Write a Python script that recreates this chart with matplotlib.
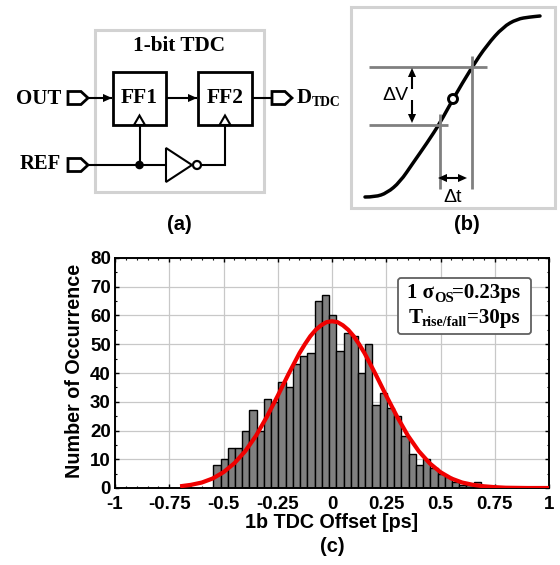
# -*- coding: utf-8 -*-
import numpy as np
import matplotlib
matplotlib.use("Agg")
import matplotlib.pyplot as plt
from matplotlib.patches import Rectangle, Polygon, Circle, FancyBboxPatch, PathPatch
from matplotlib.path import Path
from matplotlib.ticker import MultipleLocator, FixedLocator

# histogram of the 1b TDC offset
bin_first = -0.547
bin_width = 1 / 30
counts = [8, 10, 14, 14, 20, 27, 20, 31, 30, 37, 35, 43, 46, 47, 65, 67,
          60, 47.5, 54, 53, 40, 50, 29, 33, 28, 25, 18, 12, 8, 10, 7, 5, 4, 2, 1, 1, 2]

# red fit
fit_x = [-0.7, -0.65, -0.6, -0.55, -0.5, -0.45, -0.4, -0.35, -0.3, -0.25, -0.2, -0.175, -0.15, -0.125, -0.1, -0.075, -0.05, -0.025,
         0, 0.025, 0.05, 0.075, 0.1, 0.125, 0.15, 0.175, 0.2, 0.25, 0.3, 0.35, 0.4, 0.45, 0.5, 0.55, 0.6, 0.65, 0.7, 0.75, 0.8, 0.9, 1.0]
fit_y = [0.6, 1.1, 1.9, 3.3, 5.5, 8.6, 12.8, 18.2, 24.8, 32.1, 39.7, 43.3, 46.9, 50, 52.8, 55, 56.6, 57.7,
         58, 57.7, 56.6, 55, 52.8, 50, 46.9, 43.3, 39.7, 32.1, 24.8, 18.2, 12.8, 8.6, 5.5, 3.3, 1.9, 1.1, 0.6, 0.3, 0.1, 0, 0]

x_ticks = [-1, -0.75, -0.5, -0.25, 0, 0.25, 0.5, 0.75, 1]
x_labels = ["-1", "-0.75", "-0.5", "-0.25", "0", "0.25", "0.5", "0.75", "1"]
y_ticks = [0, 10, 20, 30, 40, 50, 60, 70, 80]

# sigmoid in panel (b), pixel positions
curve_x = [365, 375, 387, 400, 413, 427, 440, 453, 472, 487, 503, 517, 530, 540]
curve_y = [197, 197, 193, 182, 163, 143, 123, 99, 67, 45, 27, 19, 17, 16]

W, H = 560, 565
SERIF = "Liberation Serif"
SANS = "Liberation Sans"

fig = plt.figure(figsize=(W / 100, H / 100), dpi=100)

# lower chart
ax = fig.add_axes([115 / W, 1 - 488 / H, 434 / W, 230 / H])
lefts = bin_first + bin_width * np.arange(len(counts))
ax.bar(lefts, counts, width=bin_width, align="edge", color="#808080", edgecolor="black", linewidth=1.0, zorder=2)
ax.plot(fit_x, fit_y, color="#f00000", linewidth=3.0, zorder=3, solid_capstyle="butt")
ax.set_xlim(-1, 1)
ax.set_ylim(0, 80)
ax.xaxis.set_major_locator(FixedLocator(x_ticks))
ax.set_xticklabels(x_labels)
ax.xaxis.set_minor_locator(MultipleLocator(0.05))
ax.set_yticks(y_ticks)
ax.yaxis.set_minor_locator(MultipleLocator(5))
ax.grid(True, which="major", color="#c8c8c8", linewidth=0.9, zorder=0)
ax.set_axisbelow(True)
ax.tick_params(which="major", direction="in", top=True, right=True, length=3, width=1.0, pad=3)
ax.tick_params(axis="x", which="major", pad=5.5)
ax.tick_params(which="minor", direction="in", top=True, right=True, length=1.5, width=0.8)
for lab in ax.get_xticklabels() + ax.get_yticklabels():
    lab.set_fontfamily(SANS)
    lab.set_fontweight("bold")
    lab.set_fontsize(13.5)
for s in ax.spines.values():
    s.set_linewidth(1.4)

# everything else is drawn in pixel coordinates on top
ov = fig.add_axes([0, 0, 1, 1], zorder=5)
ov.set_xlim(0, W)
ov.set_ylim(H, 0)
ov.axis("off")
ov.patch.set_alpha(0)


def txt(x, y, s, size, family=SERIF, ha="center", va="center", **kw):
    ov.text(x, y, s, fontsize=size, family=family, fontweight="bold", ha=ha, va=va, zorder=6, **kw)


def line(xs, ys, color="black", lw=1.5):
    ov.plot(xs, ys, color=color, linewidth=lw, solid_capstyle="butt", solid_joinstyle="miter")


def head(x, y, dx, dy, size=9):
    # small filled arrow head with its tip at x,y
    px, py = -dy, dx
    pts = [(x, y), (x - dx * size + px * size * 0.45, y - dy * size + py * size * 0.45),
           (x - dx * size - px * size * 0.45, y - dy * size - py * size * 0.45)]
    ov.add_patch(Polygon(pts, closed=True, facecolor="black", edgecolor="none", zorder=4))


def port(x, y):
    pts = [(x, y - 6.5), (x + 13, y - 6.5), (x + 20, y), (x + 13, y + 6.5), (x, y + 6.5)]
    ov.add_patch(Polygon(pts, closed=True, facecolor="white", edgecolor="black", linewidth=2.0, zorder=3))


def clock(x, y):
    pts = [(x - 5.5, y), (x, y - 9.5), (x + 5.5, y)]
    ov.add_patch(Polygon(pts, closed=True, facecolor="white", edgecolor="black", linewidth=1.5, zorder=4))


def smooth(xs, ys, lw):
    # quadratic pieces through the midpoints, so the curve has no corners
    verts = [(xs[0], ys[0])]
    codes = [Path.MOVETO]
    for i in range(1, len(xs) - 1):
        verts += [(xs[i], ys[i]), ((xs[i] + xs[i + 1]) / 2, (ys[i] + ys[i + 1]) / 2)]
        codes += [Path.CURVE3, Path.CURVE3]
    verts.append((xs[-1], ys[-1]))
    codes.append(Path.LINETO)
    ov.add_patch(PathPatch(Path(verts, codes), fill=False, edgecolor="black", linewidth=lw, capstyle="round"))


# panel (a)
ov.add_patch(Rectangle((95, 30), 169, 162, fill=False, edgecolor="#d2d2d2", linewidth=2.2))
txt(179.5, 46, "1-bit TDC", 15.3)
ov.add_patch(Rectangle((113, 72), 53, 53, facecolor="white", edgecolor="black", linewidth=2.0, zorder=2))
ov.add_patch(Rectangle((198, 72), 54, 53, facecolor="white", edgecolor="black", linewidth=2.0, zorder=2))
txt(139.5, 98, "FF1", 15.5)
txt(225, 98, "FF2", 15.5)
txt(61, 99, "OUT", 15, ha="right")
txt(61, 164, "REF", 14.8, ha="right")
port(68, 98)
port(68, 165)
port(272, 98)
line([88, 112], [98, 98])
head(112, 98, 1, 0)
line([166, 197], [98, 98])
head(197, 98, 1, 0)
line([252, 272], [98, 98])
txt(297, 98, "D", 15, ha="left")
txt(312, 103, "TDC", 9.8, ha="left")
line([88, 166], [165, 165])
line([139.5, 139.5], [165, 125])
clock(139.5, 125)
ov.add_patch(Circle((139.5, 165), 4.3, facecolor="black", edgecolor="none", zorder=4))
ov.add_patch(Polygon([(166, 148), (166, 182), (192, 165)], closed=True, facecolor="white", edgecolor="black", linewidth=1.5))
ov.add_patch(Circle((197, 165), 4, facecolor="white", edgecolor="black", linewidth=1.6, zorder=4))
line([201, 225, 225], [165, 165, 125])
clock(225, 125)
txt(179, 224, "(a)", 14.5, family=SANS)

# panel (b)
ov.add_patch(Rectangle((351, 7), 204, 201, fill=False, edgecolor="#d2d2d2", linewidth=2.2))
gray = "#808080"
line([369, 487], [67, 67], color=gray, lw=2.0)
line([369, 448], [125, 125], color=gray, lw=2.0)
line([440, 440], [114, 189], color=gray, lw=2.0)
line([472, 472], [56, 189], color=gray, lw=2.0)
smooth(curve_x, curve_y, 2.5)
ov.add_patch(Circle((453, 99), 4.5, facecolor="white", edgecolor="black", linewidth=2.1, zorder=4))
line([412, 412], [74, 89], lw=1.5)
head(412, 68, 0, -1)
line([412, 412], [100, 116], lw=1.5)
head(412, 123, 0, 1)
line([445, 460], [178, 178], lw=1.5)
head(438, 178, -1, 0)
head(467, 178, 1, 0)
ov.text(395, 96, "ΔV", fontsize=14, family=SANS, ha="center", va="center")
ov.text(453, 197, "Δt", fontsize=14, family=SANS, ha="center", va="center")
txt(467, 224, "(b)", 14.5, family=SANS)

# note box in the lower chart
ov.add_patch(FancyBboxPatch((398, 278), 133, 56, boxstyle="round,pad=0,rounding_size=3", facecolor="white",
                            edgecolor="#606060", linewidth=1.3, zorder=3))
txt(407, 293, "1 σ", 15, ha="left")
txt(434, 298, "OS", 10.5, ha="left")
txt(452, 293, "=0.23ps", 15, ha="left")
txt(409, 318, "T", 15, ha="left")
txt(422, 323, "rise/fall", 10, ha="left")
txt(467, 318, "=30ps", 15, ha="left")

# axis titles
txt(74, 371, "Number of Occurrence", 14.2, family=SANS, rotation=90)
txt(332, 522, "1b TDC Offset [ps]", 14.2, family=SANS)
txt(332, 547, "(c)", 14.5, family=SANS)

fig.savefig("out.png", dpi=100)
